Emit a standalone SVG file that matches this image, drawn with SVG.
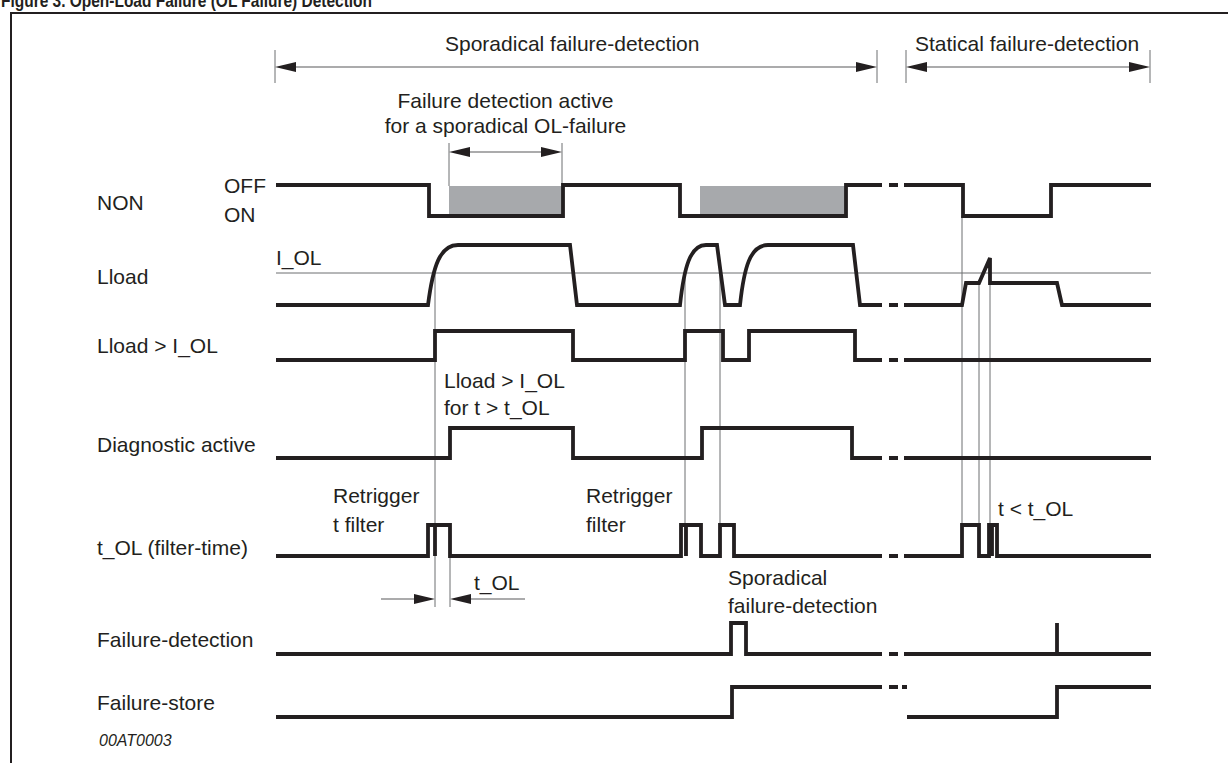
<svg xmlns="http://www.w3.org/2000/svg" width="1228" height="763" viewBox="0 0 1228 763">
<style>
text{font-family:"Liberation Sans",Arial,sans-serif;font-size:21px;fill:#231f20}
.title{font-weight:bold;font-size:19px}
.code{font-style:italic;font-size:16px}
.sig{fill:none;stroke:#231f20;stroke-width:3.8;stroke-linejoin:miter;stroke-linecap:butt}
.thin{fill:none;stroke:#6d6e71;stroke-width:1}
.dim{fill:none;stroke:#58595b;stroke-width:1.2}
.head{fill:#231f20}
.shade{fill:#a7a9ac}
</style>
<rect width="1228" height="763" fill="#fff"/>
<text class="title" x="1" y="7" textLength="371" lengthAdjust="spacingAndGlyphs">Figure 3. Open-Load Failure (OL Failure) Detection</text>
<path d="M11,775 V13 H1240" fill="none" stroke="#231f20" stroke-width="2"/>

<g id="labels">
<text x="97" y="210">NON</text>
<text x="97" y="284">Lload</text>
<text x="97" y="353">Lload &gt; I_OL</text>
<text x="97" y="452">Diagnostic active</text>
<text x="97" y="555">t_OL (filter-time)</text>
<text x="97" y="647">Failure-detection</text>
<text x="97" y="710">Failure-store</text>
<text x="224" y="193">OFF</text>
<text x="224" y="222">ON</text>
<text x="276" y="265">I_OL</text>
<text class="code" x="99" y="746">00AT0003</text>
</g>

<g id="annotations">
<text x="445" y="51">Sporadical failure-detection</text>
<text x="915" y="51">Statical failure-detection</text>
<text x="505.5" y="108" text-anchor="middle">Failure detection active</text>
<text x="505.5" y="133" text-anchor="middle">for a sporadical OL-failure</text>
<text x="444" y="388">Lload &gt; I_OL</text>
<text x="444" y="415">for t &gt; t_OL</text>
<text x="333" y="503">Retrigger</text>
<text x="333" y="532">t filter</text>
<text x="586" y="503">Retrigger</text>
<text x="586" y="532">filter</text>
<text x="474" y="590">t_OL</text>
<text x="728" y="585">Sporadical</text>
<text x="728" y="613">failure-detection</text>
<text x="998" y="516">t &lt; t_OL</text>
</g>

<g id="connectors">
<path class="thin" d="M275,50 V83 M877,50 V83 M906,50 V83 M1150,50 V83"/>
<path class="dim" d="M290,67 H862 M921,67 H1135"/>
<polygon class="head" points="275,67 296,62 296,72"/>
<polygon class="head" points="877,67 856,62 856,72"/>
<polygon class="head" points="906,67 927,62 927,72"/>
<polygon class="head" points="1150,67 1129,62 1129,72"/>
<path class="thin" d="M449,143 V186 M562,143 V186"/>
<path class="dim" d="M465,152 H546"/>
<polygon class="head" points="449,152 470,147 470,157"/>
<polygon class="head" points="562,152 541,147 541,157"/>
<path class="dim" d="M381,599 H420 M465,599 H525"/>
<polygon class="head" points="435,599 414,594 414,604"/>
<polygon class="head" points="450,599 471,594 471,604"/>
<path class="thin" d="M276,273 H1151"/>
<path class="thin" d="M435,273 V607 M450,556 V607 M685,273 V556 M720,273 V556 M962,216 V556 M979,283 V556 M990,262 V556"/>
</g>

<g id="sig-non">
<rect class="shade" x="449" y="186" width="113" height="29"/>
<rect class="shade" x="700" y="186" width="145" height="29"/>
<path class="sig" d="M276,185 H429 V216 H563 V185 H680 V216 H846 V185 H882 M889,185 H898 M904,185 H963 V216 H1051 V185 H1151"/>
</g>
<g id="sig-lload">
<path class="sig" d="M276,305 H428 C433,266 440,245 458,245 H570 L577,305 H680 C684,268 690,245 706,245 H717 L725,305 H740 C744,268 750,245 768,245 H853 L860,305 H882 M889,305 H898 M904,305 H962 L966,283 H979 L990,258 V283 H1057 L1062,305 H1151"/>
</g>
<g id="sig-lload-gt">
<path class="sig" d="M276,360 H435 V331 H573 V360 H685 V331 H723 V360 H749 V331 H855 V360 H882 M889,360 H898 M904,360 H1151"/>
</g>
<g id="sig-diag">
<path class="sig" d="M276,458 H450 V428 H573 V458 H702 V428 H852 V458 H882 M889,458 H898 M904,458 H1151"/>
</g>
<g id="sig-tol">
<path class="sig" d="M276,556 H428 V525 H450 V556 H681 V525 H701 V556 H720 V525 H734 V556 H882 M889,556 H898 M904,556 H962 V525 H979 V556 H989 V525 H997 V556 H1151"/>
<path class="sig" d="M435,525 V556 M686,525 V556 M992,525 V556"/>
</g>
<g id="sig-fdet">
<path class="sig" d="M276,654 H731 V623 H746 V654 H882 M889,654 H898 M904,654 H1151 M1057,654 V623"/>
</g>
<g id="sig-fstore">
<path class="sig" d="M276,717 H732 V687 H882 M889,687 H898 M902,687 H907 M907,717 H1057 V687 H1151"/>
</g>
</svg>
